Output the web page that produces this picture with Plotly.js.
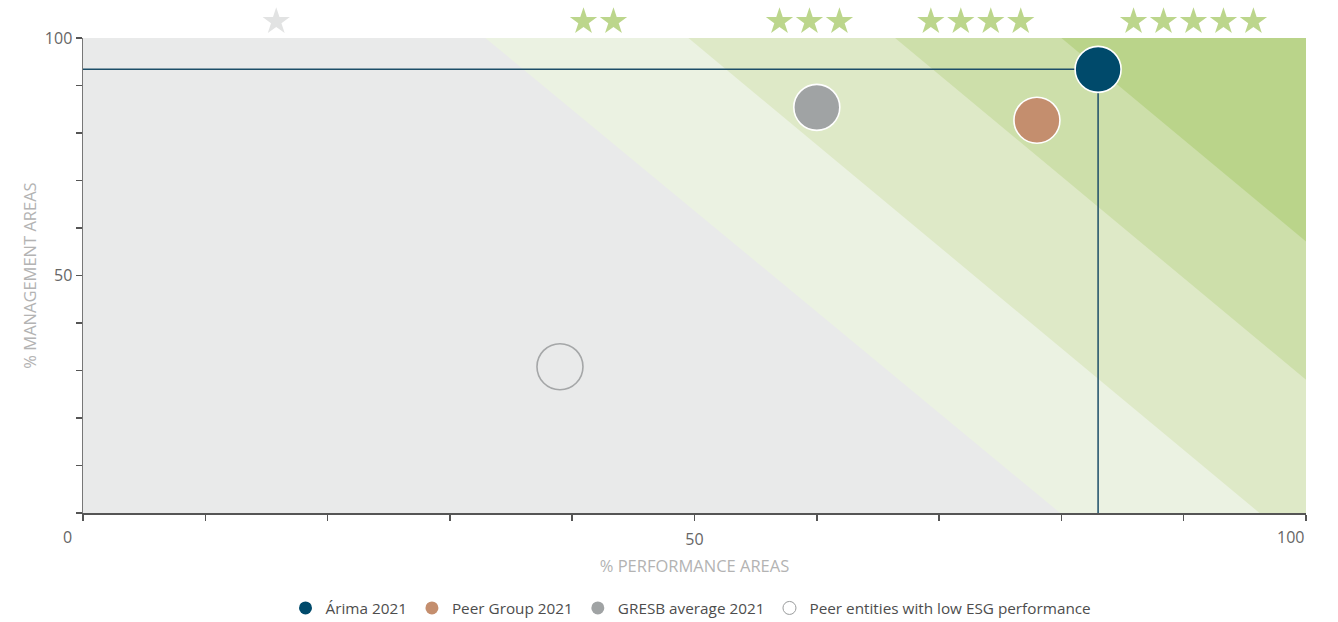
<!DOCTYPE html>
<html>
<head>
<meta charset="utf-8">
<script src="https://cdn.plot.ly/plotly-3.0.1.min.js"></script>
<style>
html,body{margin:0;padding:0;background:#fff;}
#chart{width:1338px;height:622px;}
</style>
</head>
<body>
<div id="chart"></div>
<script>
// Series (x = % performance areas, y = % management areas)
const seriesNames = ['Árima 2021', 'Peer Group 2021', 'GRESB average 2021', 'Peer entities with low ESG performance'];
const perfValues = [83, 78, 60, 39];
const mgmtValues = [93.4, 82.7, 85.4, 30.8];

// Star-rating band boundaries: x at management=100 and x at management=0
const boundaryTopX = [32.9, 49.5, 66.4, 80.0];
const boundaryBottomX = [79.9, 96.2, 113.1, 126.7];
const starRatings = [1, 2, 3, 4, 5];
const starCentersX = [15.8, 42.15, 59.4, 73.0, 90.8];

// Axis ticks
const tickVals = [0, 10, 20, 30, 40, 50, 60, 70, 80, 90, 100];
const xTickText = ['', '', '', '', '', '50', '', '', '', '', ''];
const yTickText = ['', '', '', '', '', '50', '', '', '', '', '100'];

const colors = ['#004a6b', '#c48e6e', '#a0a3a4', 'rgba(0,0,0,0)'];
const bandColors = ['#e9eaea', '#ebf2e2', '#dee9c7', '#cddfaa', '#bad48a'];
const starColors = ['#e2e3e3', '#bcd68c', '#bcd68c', '#bcd68c', '#bcd68c'];

const shapes = [];
// Background (1 star)
shapes.push({type: 'rect', xref: 'x', yref: 'y', x0: 0, x1: 100, y0: 0, y1: 100,
  fillcolor: bandColors[0], line: {width: 0}, layer: 'below'});
// Regions to the right of each boundary, successively darker
boundaryTopX.forEach((xt, i) => {
  const xb = boundaryBottomX[i];
  let path;
  if (xb <= 100) {
    path = `M ${xt} 100 L 100 100 L 100 0 L ${xb} 0 Z`;
  } else {
    const yc = 100 * (100 - xb) / (xt - xb);
    path = `M ${xt} 100 L 100 100 L 100 ${yc} Z`;
  }
  shapes.push({type: 'path', xref: 'x', yref: 'y', path: path,
    fillcolor: bandColors[i + 1], line: {width: 0}, layer: 'below'});
});

const traces = [];
// Reference lines for Árima
traces.push({x: [0, perfValues[0], perfValues[0]], y: [mgmtValues[0], mgmtValues[0], 0],
  mode: 'lines', line: {color: '#1d4e68', width: 1.5}, showlegend: false, hoverinfo: 'skip'});

// Stars (drawn in a thin strip above the plot, sharing the x axis)
const starX = [], starY = [], starC = [];
const starStep = 2.45;
starRatings.forEach((n, i) => {
  for (let k = 0; k < n; k++) {
    starX.push(starCentersX[i] + (k - (n - 1) / 2) * starStep);
    starY.push(0.5);
    starC.push(starColors[i]);
  }
});
traces.push({x: starX, y: starY, xaxis: 'x', yaxis: 'y2', mode: 'markers', cliponaxis: false,
  marker: {symbol: 'star', size: 20.5, color: starC, line: {width: 0}},
  showlegend: false, hoverinfo: 'skip'});

// Bubbles
seriesNames.forEach((name, i) => {
  const open = i === 3;
  traces.push({
    x: [perfValues[i]], y: [mgmtValues[i]], name: name, mode: 'markers', type: 'scatter',
    marker: {size: 46, color: colors[i],
      line: {color: open ? '#a5a7a8' : '#ffffff', width: 1.6}},
    showlegend: false
  });
  // legend entry with small marker
  traces.push({
    x: [null], y: [null], name: name, mode: 'markers', type: 'scatter',
    marker: {size: 13, color: open ? '#ffffff' : colors[i],
      line: {color: open ? '#9a9c9d' : colors[i], width: open ? 1 : 0}},
    showlegend: true
  });
});

const FONT = 'Open Sans, sans-serif';
const axisFont = {family: FONT, size: 16, color: '#666666'};
const titleFont = {family: FONT, size: 16.5, color: '#b3b3b3'};

// plot area: top 5 .. bottom 513  (total 508 px); main plot 38..513
const mainTop = (513 - 38) / 508;

const layout = {
  width: 1338, height: 622,
  margin: {l: 83, r: 32, t: 5, b: 109},
  paper_bgcolor: '#ffffff', plot_bgcolor: 'rgba(0,0,0,0)',
  showlegend: true,
  legend: {orientation: 'h', x: 691 / 1338, xanchor: 'center', xref: 'container',
    y: (622 - 608) / 622, yanchor: 'middle', yref: 'container',
    font: {family: FONT, size: 15.3, color: '#4d4d4d'},
    itemwidth: 30, tracegroupgap: 0},
  xaxis: {range: [0, 100], tickvals: tickVals, ticktext: xTickText, ticks: 'outside',
    ticklen: 6, tickwidth: 1.5, tickcolor: '#555555', showgrid: false, zeroline: false,
    showline: true, linecolor: '#555555', linewidth: 1.5, tickfont: axisFont,
    ticklabelstandoff: 5, automargin: false,
    title: {text: '% PERFORMANCE AREAS', font: titleFont, standoff: 11},
    fixedrange: true},
  yaxis: {domain: [0, mainTop], range: [0, 100], tickvals: tickVals, ticktext: yTickText, ticks: 'outside',
    ticklen: 6, tickwidth: 1.5, tickcolor: '#555555', showgrid: false, zeroline: false,
    showline: true, linecolor: '#777777', linewidth: 1.5, tickfont: axisFont, automargin: false,
    title: {text: '% MANAGEMENT AREAS', font: titleFont, standoff: 4},
    fixedrange: true},
  yaxis2: {domain: [mainTop, 1], range: [0, 1], anchor: 'x', visible: false, fixedrange: true},
  shapes: shapes,
  annotations: [
    {text: '0', xref: 'paper', yref: 'paper', x: -0.013, y: 0, xanchor: 'center', yanchor: 'middle',
      yshift: -24, showarrow: false, font: axisFont},
    {text: '100', xref: 'paper', yref: 'paper', x: 1, y: 0, xanchor: 'right', yanchor: 'middle',
      yshift: -24, showarrow: false, font: axisFont}
  ]
};

Plotly.newPlot('chart', traces, layout, {displayModeBar: false, staticPlot: true});
</script>
</body>
</html>
